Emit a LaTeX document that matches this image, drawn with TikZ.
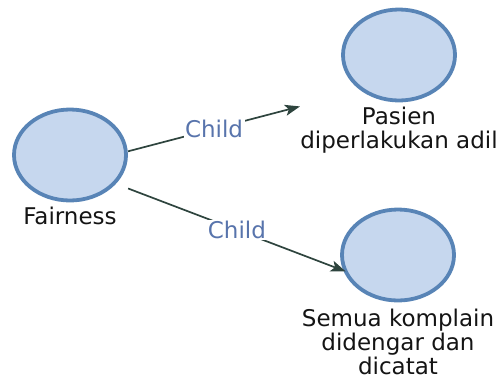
\documentclass[tikz,border=0pt]{standalone}
\usepackage{fontspec}
\setmainfont{DejaVu Sans}
\usetikzlibrary{arrows.meta,shapes.geometric,fit,intersections}

\definecolor{nodefill}{RGB}{198,215,238}
\definecolor{nodeline}{RGB}{88,132,182}
\definecolor{edgecol}{RGB}{46,68,62}
\definecolor{edgetext}{RGB}{88,116,172}
\definecolor{labeltext}{RGB}{20,20,20}

\begin{document}
\begin{tikzpicture}[x=1pt,y=-1pt,
  concept/.style={ellipse, draw=nodeline, line width=3.8pt, fill=nodefill,
    minimum width=112pt, minimum height=91pt, inner sep=0pt},
  caption/.style={anchor=north, inner sep=0pt, align=center, text=labeltext,
    font=\fontsize{23}{24}\selectfont},
  group/.style={inner sep=0pt},
  link/.style={draw=edgecol, line width=1.7pt,
    -{Stealth[length=15pt,width=11pt,inset=3.5pt]}},
  linktext/.style={midway, fill=white, inner sep=1.5pt, text=edgetext,
    font=\fontsize{23}{24}\selectfont}]

  \useasboundingbox (0,0) rectangle (502,381);

  % Fairness
  \node[concept] (fair) at (70,155) {};
  \node[caption] (fairlab) at (70,207) {Fairness};
  \node[group, fit=(fair)(fairlab)] (fairbox) {};

  % Pasien diperlakukan adil
  \node[concept] (pas) at (399,55) {};
  \node[caption] (paslab) at (399,107) {Pasien\\diperlakukan adil};
  \node[group, fit=(pas)(paslab)] (pasbox) {};

  % Semua komplain didengar dan dicatat
  \node[concept, name path=semring] (sem) at (398,255) {};
  \node[caption] (semlab) at (398,309) {Semua komplain\\didengar dan\\dicatat};
  \node[group, fit=(sem)(semlab)] (sembox) {};

  % Child links
  \draw[link] (fairbox) -- node[linktext] {Child} (pasbox);

  \path[name path=semray] (fairbox.center) -- (sembox.center);
  \path[name intersections={of=semray and semring, by={semhit}}];
  \draw[link] (fairbox) -- node[linktext] {Child} (semhit);
\end{tikzpicture}
\end{document}
